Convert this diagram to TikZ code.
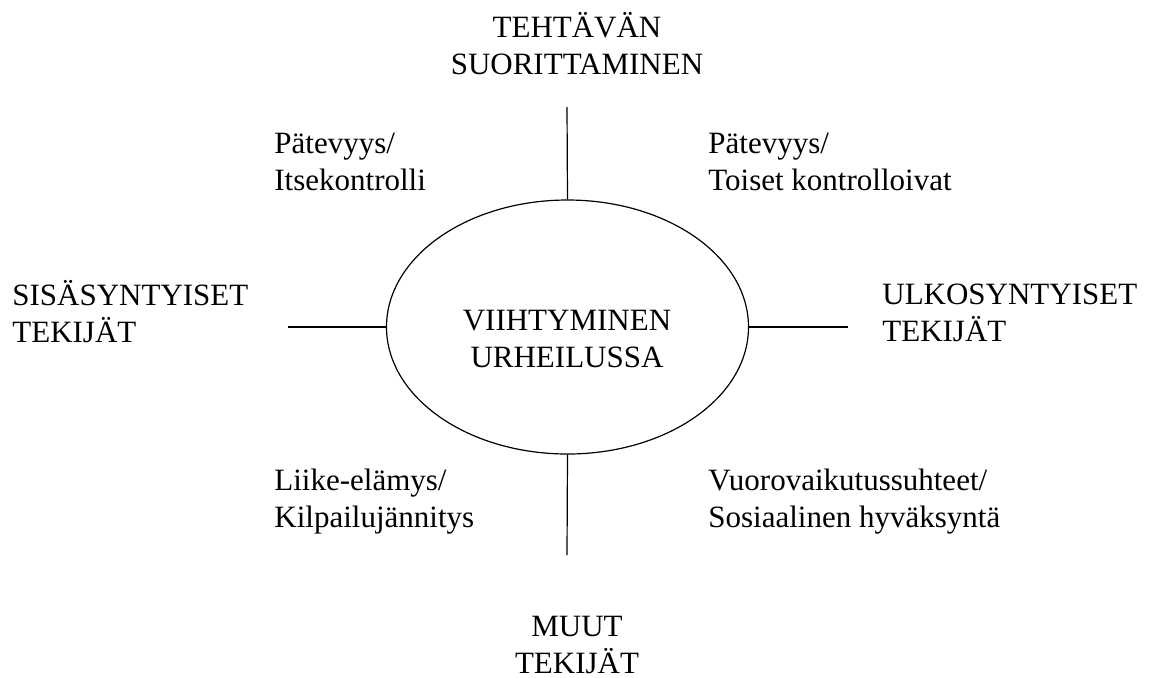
\documentclass[tikz,border=0pt]{standalone}
\usepackage{fontspec}
\setmainfont{Liberation Serif}
\usepackage{tikz}
\usetikzlibrary{shapes.geometric}

\begin{document}
\begin{tikzpicture}[x=0.5pt,y=-0.5pt,
  txt/.style={inner sep=0pt,font=\fontsize{15.5}{18.5}\selectfont},
  ln/.style={line width=0.6pt}]
\useasboundingbox (0,0) rectangle (1157,677);

\node[ellipse,draw,ln,minimum width=181pt,minimum height=127pt,inner sep=0pt] (E) at (567.5,327) {};
\node[txt,align=center,anchor=base] (Ev) at (567,367) {VIIHTYMINEN\\URHEILUSSA};

\node[txt,align=center,anchor=base] (T) at (577,74) {TEHTÄVÄN\\SUORITTAMINEN};
\node[txt,align=center,anchor=base] (M) at (577,673) {MUUT\\TEKIJÄT};
\node[txt,align=left,anchor=base west] (S) at (12,342) {SISÄSYNTYISET\\TEKIJÄT};
\node[txt,align=left,anchor=base west] (U) at (882,341) {ULKOSYNTYISET\\TEKIJÄT};

\node[txt,align=left,anchor=base west] (PI) at (274,190) {Pätevyys/\\Itsekontrolli};
\node[txt,align=left,anchor=base west] (PT) at (708,190) {Pätevyys/\\Toiset kontrolloivat};
\node[txt,align=left,anchor=base west] (LK) at (274,527) {Liike-elämys/\\Kilpailujännitys};
\node[txt,align=left,anchor=base west] (VS) at (708,527) {Vuorovaikutussuhteet/\\Sosiaalinen hyväksyntä};

\coordinate (t) at (567,107);
\coordinate (b) at (567,555);
\coordinate (l) at (288,327);
\coordinate (r) at (848,327);

\draw[ln] (t) -- (E.north);
\draw[ln] (E.south) -- (b);
\draw[ln] (l) -- (E.west);
\draw[ln] (E.east) -- (r);
\end{tikzpicture}
\end{document}
